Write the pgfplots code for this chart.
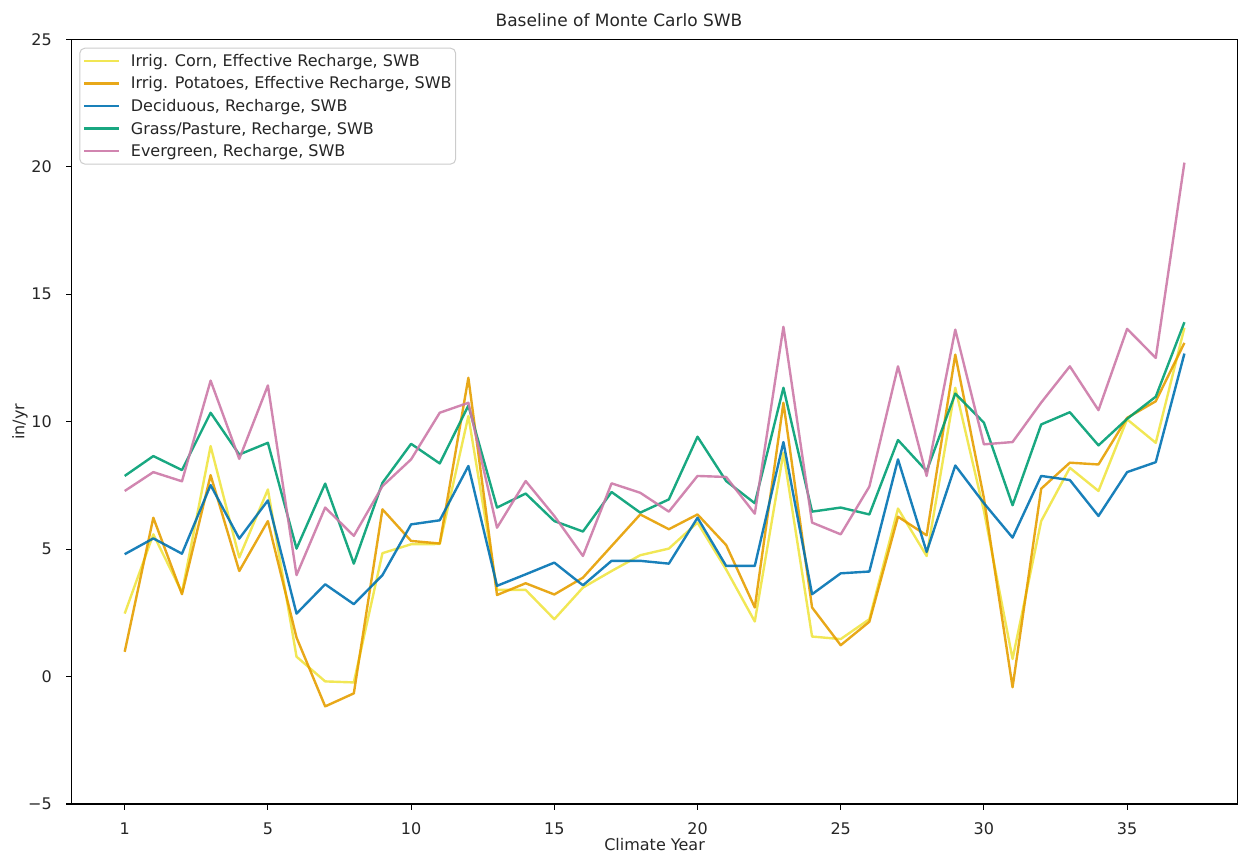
\documentclass[border=0pt]{standalone}
\usepackage{fontspec}
\setmainfont{DejaVu Sans}
\usepackage{pgfplots}
\pgfplotsset{compat=1.18}
\usepackage{pgfplotstable}

\definecolor{cyel}{HTML}{F0E442}
\definecolor{corg}{HTML}{E69F00}
\definecolor{cblu}{HTML}{0072B2}
\definecolor{cgrn}{HTML}{009E73}
\definecolor{cpnk}{HTML}{CC79A7}

\pgfplotstableread{
x corn pot dec grass ever
0 2.47 0.97 4.80 7.87 7.28
1 5.58 6.23 5.42 8.65 8.02
2 3.30 3.23 4.82 8.10 7.66
3 9.04 7.90 7.51 10.35 11.61
4 4.67 4.14 5.41 8.71 8.54
5 7.34 6.10 6.91 9.17 11.42
6 0.78 1.53 2.47 5.02 3.98
7 -0.19 -1.17 3.62 7.57 6.63
8 -0.23 -0.66 2.84 4.43 5.52
9 4.84 6.56 3.98 7.60 7.47
10 5.19 5.32 5.97 9.13 8.52
11 5.20 5.22 6.13 8.36 10.35
12 10.22 11.72 8.26 10.63 10.74
13 3.40 3.20 3.56 6.63 5.84
14 3.40 3.66 4.01 7.18 7.67
15 2.25 3.22 4.47 6.10 6.30
16 3.49 3.88 3.58 5.69 4.73
17 4.14 5.12 4.54 7.24 7.58
18 4.76 6.36 4.54 6.43 7.21
19 5.02 5.78 4.43 6.95 6.47
20 6.04 6.36 6.23 9.41 7.87
21 4.20 5.16 4.34 7.67 7.83
22 2.16 2.71 4.34 6.80 6.39
23 8.78 10.74 9.20 11.33 13.72
24 1.57 2.71 3.23 6.47 6.04
25 1.47 1.23 4.05 6.63 5.58
26 2.25 2.15 4.12 6.36 7.45
27 6.59 6.27 8.52 9.28 12.17
28 4.73 5.54 4.89 8.06 7.87
29 11.33 12.63 8.28 11.10 13.61
30 6.50 7.00 6.80 9.96 9.11
31 0.69 -0.42 5.45 6.72 9.20
32 6.10 7.37 7.87 9.89 10.75
33 8.19 8.39 7.71 10.37 12.17
34 7.28 8.32 6.30 9.07 10.45
35 10.09 10.15 8.02 10.11 13.64
36 9.17 10.80 8.41 10.98 12.50
37 13.68 13.09 12.67 13.90 20.16
}\data

\begin{document}
\begin{tikzpicture}
\useasboundingbox (-71.7pt,-51pt) rectangle (1166.3pt,804pt);
\begin{axis}[
  at={(0,0)}, anchor=south west,
  scale only axis, width=1165.7pt, height=764.7pt,
  xmin=-1.85, xmax=38.85, ymin=-5, ymax=25,
  xtick={0,5,...,35}, xticklabels={1,5,10,15,20,25,30,35},
  ytick={-5,0,...,25}, yticklabels={\char"2212 5,0,5,10,15,20,25},
  /pgf/number format/assume math mode=true,
  tick align=outside, tick pos=left,
  major tick length=5.6pt,
  every tick/.style={black, line width=1.1pt},
  axis line style={line width=1.1pt, black},
  tick label style={font=\fontsize{16}{19}\selectfont, text=black!85},
  xticklabel style={anchor=north, inner sep=0pt, yshift=-13pt},
  yticklabel style={anchor=east, inner sep=0pt, xshift=-14.2pt},
  xlabel={Climate Year},
  ylabel={in/yr},
  every axis x label/.style={at={(axis description cs:0.5,-0.0536)}, anchor=center, font=\fontsize{16}{19}\selectfont, text=black!85},
  every axis y label/.style={at={(axis description cs:-0.04435,0.5)}, anchor=center, rotate=90, font=\fontsize{16}{19}\selectfont, text=black!85},
  title={Baseline of Monte Carlo SWB},
  every axis title/.style={at={(axis description cs:0.4695,1.0248)}, anchor=center, font=\fontsize{17}{20}\selectfont, text=black!85},
  legend image code/.code={\draw[#1] (0pt,0pt) -- (35pt,0pt);},
  legend style={at={(axis description cs:0,1)}, anchor=north west,
    xshift=7.6pt, yshift=-8.4pt, draw=black!20, line width=1pt, rounded corners=5pt,
    fill=white, fill opacity=0.8, draw opacity=1, text opacity=1,
    inner xsep=3pt, inner ysep=4pt, row sep=4.9pt, column sep=9.7pt,
    nodes={inner xsep=1pt, inner ysep=2pt, text=black!85},
    font=\fontsize{16}{19}\selectfont},
  legend cell align=left,
  every axis plot/.append style={line width=2.4pt, line join=round},
]
\addplot[cyel, opacity=0.9] table[x=x, y=corn] {\data};
\addlegendentry{Irrig. Corn, Effective Recharge, SWB}
\addplot[corg, opacity=0.9] table[x=x, y=pot] {\data};
\addlegendentry{Irrig. Potatoes, Effective Recharge, SWB}
\addplot[cblu, opacity=0.9] table[x=x, y=dec] {\data};
\addlegendentry{Deciduous, Recharge, SWB}
\addplot[cgrn, opacity=0.9] table[x=x, y=grass] {\data};
\addlegendentry{Grass/Pasture, Recharge, SWB}
\addplot[cpnk, opacity=0.9] table[x=x, y=ever] {\data};
\addlegendentry{Evergreen, Recharge, SWB}
\end{axis}
\end{tikzpicture}
\end{document}
